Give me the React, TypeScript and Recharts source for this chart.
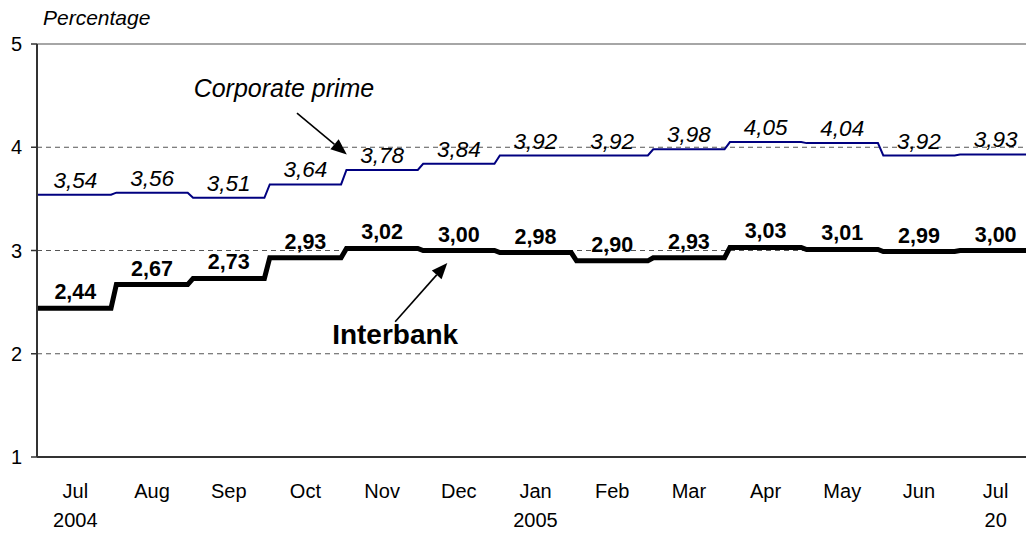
import React from "react";
import {
  LineChart,
  Line,
  XAxis,
  YAxis,
  ReferenceLine,
  ReferenceDot,
  LabelList,
} from "recharts";

// Monthly average rates, Jul 2004 – Jul 2005
const months = ["Jul", "Aug", "Sep", "Oct", "Nov", "Dec", "Jan", "Feb", "Mar", "Apr", "May", "Jun", "Jul"];
const years = ["2004", "", "", "", "", "", "2005", "", "", "", "", "", "20"];
const corporatePrime = [3.54, 3.56, 3.51, 3.64, 3.78, 3.84, 3.92, 3.92, 3.98, 4.05, 4.04, 3.92, 3.93];
const interbank = [2.44, 2.67, 2.73, 2.93, 3.02, 3.0, 2.98, 2.9, 2.93, 3.03, 3.01, 2.99, 3.0];
const yTicks = [1, 2, 3, 4, 5];
const dashedGrid = [2, 3, 4];

// annotation anchors in data units (x = month index, y = percent)
const corpNote = { text: "Corporate prime", x: 2.72, y: 4.49 };
const corpArrow = [{ x: 2.89, y: 4.33 }, { x: 3.54, y: 3.93 }];
const interNote = { text: "Interbank", x: 4.17, y: 2.09 };
const interArrow = [{ x: 4.17, y: 2.31 }, { x: 4.85, y: 2.88 }];

const FONT = '"Liberation Sans", Arial, sans-serif';
const STEP_GAP = 0.035;
const last = months.length - 1;

// each month is a flat step; the short slants between them come from the gap
const rows = months.flatMap((_, i) => {
  const corp = corporatePrime[i];
  const inter = interbank[i];
  return [
    { x: i === 0 ? -0.5 : i - 0.5 + STEP_GAP, corp, inter },
    { x: i, corp, inter, corpLabel: corp, interLabel: inter },
    { x: i === last ? last + 0.5 : i + 0.5 - STEP_GAP, corp, inter },
  ];
});

const fmt = (v: number) => v.toFixed(2).replace(".", ",");

function CorpLabel(props: any) {
  const { x, y, value } = props;
  if (value == null) return null;
  return (
    <text x={x} y={y - 7} textAnchor="middle" fontFamily={FONT} fontSize={22.5} fontStyle="italic" fill="#000">
      {fmt(value)}
    </text>
  );
}

function InterLabel(props: any) {
  const { x, y, value } = props;
  if (value == null) return null;
  return (
    <text x={x} y={y - 9} textAnchor="middle" fontFamily={FONT} fontSize={21.5} fontWeight="bold" fill="#000">
      {fmt(value)}
    </text>
  );
}

function MonthTick(props: any) {
  const { x, y, payload } = props;
  const i = payload.value as number;
  return (
    <g>
      <text x={x} y={y + 41} textAnchor="middle" fontFamily={FONT} fontSize={20} fill="#000">
        {months[i]}
      </text>
      {years[i] && (
        <text x={x} y={y + 70} textAnchor="middle" fontFamily={FONT} fontSize={20} fill="#000">
          {years[i]}
        </text>
      )}
    </g>
  );
}

function Arrow(props: any) {
  const { x1, y1, x2, y2 } = props;
  const ang = Math.atan2(y2 - y1, x2 - x1);
  const len = 16;
  const half = 6.5;
  const bx = x2 - len * Math.cos(ang);
  const by = y2 - len * Math.sin(ang);
  const px = -Math.sin(ang) * half;
  const py = Math.cos(ang) * half;
  return (
    <g>
      <line x1={x1} y1={y1} x2={bx} y2={by} stroke="#000" strokeWidth={1.6} />
      <polygon points={`${x2},${y2} ${bx + px},${by + py} ${bx - px},${by - py}`} fill="#000" />
    </g>
  );
}

const noteShape = (text: string, italic: boolean, size: number) => (p: any) => (
  <text
    x={p.cx}
    y={p.cy}
    textAnchor="middle"
    fontFamily={FONT}
    fontSize={size}
    fontStyle={italic ? "italic" : "normal"}
    fontWeight={italic ? "normal" : "bold"}
    fill="#000"
  >
    {text}
  </text>
);

export default function App() {
  return (
    <div
      style={{
        position: "absolute",
        left: 0,
        top: 0,
        width: 1026,
        height: 533,
        overflow: "hidden",
        background: "#fff",
      }}
    >
      <div
        style={{
          position: "absolute",
          left: 43,
          top: 7,
          fontFamily: FONT,
          fontSize: 21,
          lineHeight: "21px",
          fontStyle: "italic",
          color: "#000",
        }}
      >
        Percentage
      </div>
      <LineChart width={1040} height={533} data={rows} margin={{ top: 44, right: 6, bottom: 0, left: 0 }}>
        <XAxis
          dataKey="x"
          type="number"
          domain={[-0.5, last + 0.5]}
          ticks={months.map((_, i) => i)}
          tick={<MonthTick />}
          tickLine={false}
          tickSize={0}
          tickMargin={0}
          height={76}
          axisLine={{ stroke: "#333", strokeWidth: 2 }}
          interval={0}
        />
        <YAxis
          type="number"
          domain={[1, 5]}
          ticks={yTicks}
          width={37}
          tickSize={6}
          tickMargin={9}
          tick={{ fontFamily: FONT, fontSize: 20, fill: "#000" }}
          tickLine={{ stroke: "#333", strokeWidth: 1.5 }}
          axisLine={{ stroke: "#333", strokeWidth: 2 }}
        />
        {dashedGrid.map((v) => (
          <ReferenceLine key={v} y={v} stroke="#555" strokeWidth={1} strokeDasharray="5 4" />
        ))}
        <ReferenceLine y={5} stroke="#888" strokeWidth={1.5} />
        <Line
          type="linear"
          dataKey="corp"
          stroke="#000080"
          strokeWidth={2}
          dot={false}
          activeDot={false}
          isAnimationActive={false}
        >
          <LabelList dataKey="corpLabel" content={<CorpLabel />} />
        </Line>
        <Line
          type="linear"
          dataKey="inter"
          stroke="#000"
          strokeWidth={5}
          dot={false}
          activeDot={false}
          isAnimationActive={false}
        >
          <LabelList dataKey="interLabel" content={<InterLabel />} />
        </Line>
        <ReferenceLine segment={corpArrow} shape={<Arrow />} ifOverflow="visible" />
        <ReferenceLine segment={interArrow} shape={<Arrow />} ifOverflow="visible" />
        <ReferenceDot x={corpNote.x} y={corpNote.y} r={0} shape={noteShape(corpNote.text, true, 25)} />
        <ReferenceDot x={interNote.x} y={interNote.y} r={0} shape={noteShape(interNote.text, false, 28)} />
      </LineChart>
    </div>
  );
}
